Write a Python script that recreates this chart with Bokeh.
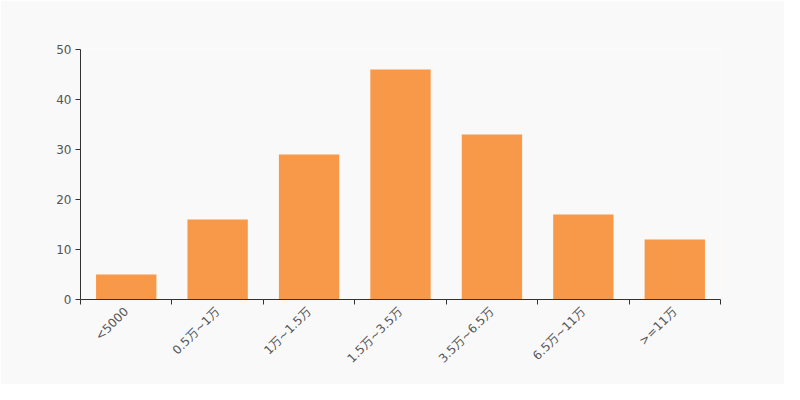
import math
from bokeh.plotting import figure
from bokeh.models import FixedTicker, ColumnDataSource, Range1d
from bokeh.embed import file_html
from bokeh.resources import INLINE

categories = ["<5000", "0.5万~1万", "1万~1.5万", "1.5万~3.5万", "3.5万~6.5万", "6.5万~11万", ">=11万"]
values = [5, 16, 29, 46, 33, 17, 12]
y_ticks = [0, 10, 20, 30, 40, 50]

xs = [i + 0.5 for i in range(len(categories))]
src = ColumnDataSource(dict(x=xs, top=values))

p = figure(width=784, height=384, output_backend="svg", toolbar_location=None,
           x_range=Range1d(0, len(categories)), y_range=Range1d(0, 50),
           min_border_left=80, min_border_right=64, min_border_top=49, min_border_bottom=85)
p.frame_width = 640
p.frame_height = 250
p.background_fill_color = "#f9f9f9"
p.border_fill_color = "#f9f9f9"
p.outline_line_color = None
p.xgrid.visible = False
p.ygrid.visible = False

p.vbar(x="x", top="top", bottom=0, width=0.66, source=src, fill_color="#f8994a", line_color=None)

font = "DejaVu Sans, Noto Sans CJK SC"
xa = p.xaxis[0]
xa.ticker = FixedTicker(ticks=xs, minor_ticks=list(range(len(categories) + 1)))
xa.major_label_overrides = {x: c for x, c in zip(xs, categories)}
xa.major_tick_line_color = None
xa.minor_tick_line_color = "#333333"
xa.minor_tick_out = 5
xa.minor_tick_in = 0
xa.axis_line_color = "#333333"
xa.major_label_orientation = math.pi / 4
xa.major_label_text_font = font
xa.major_label_text_font_size = "12px"
xa.major_label_text_color = "#555555"
xa.major_label_standoff = 4

ya = p.yaxis[0]
ya.ticker = FixedTicker(ticks=y_ticks, minor_ticks=[])
ya.major_tick_out = 5
ya.major_tick_in = 0
ya.major_tick_line_color = "#333333"
ya.axis_line_color = "#333333"
ya.major_label_text_font = font
ya.major_label_text_font_size = "12px"
ya.major_label_text_color = "#555555"
ya.major_label_standoff = 4

open("out.html", "w").write(file_html(p, INLINE))
